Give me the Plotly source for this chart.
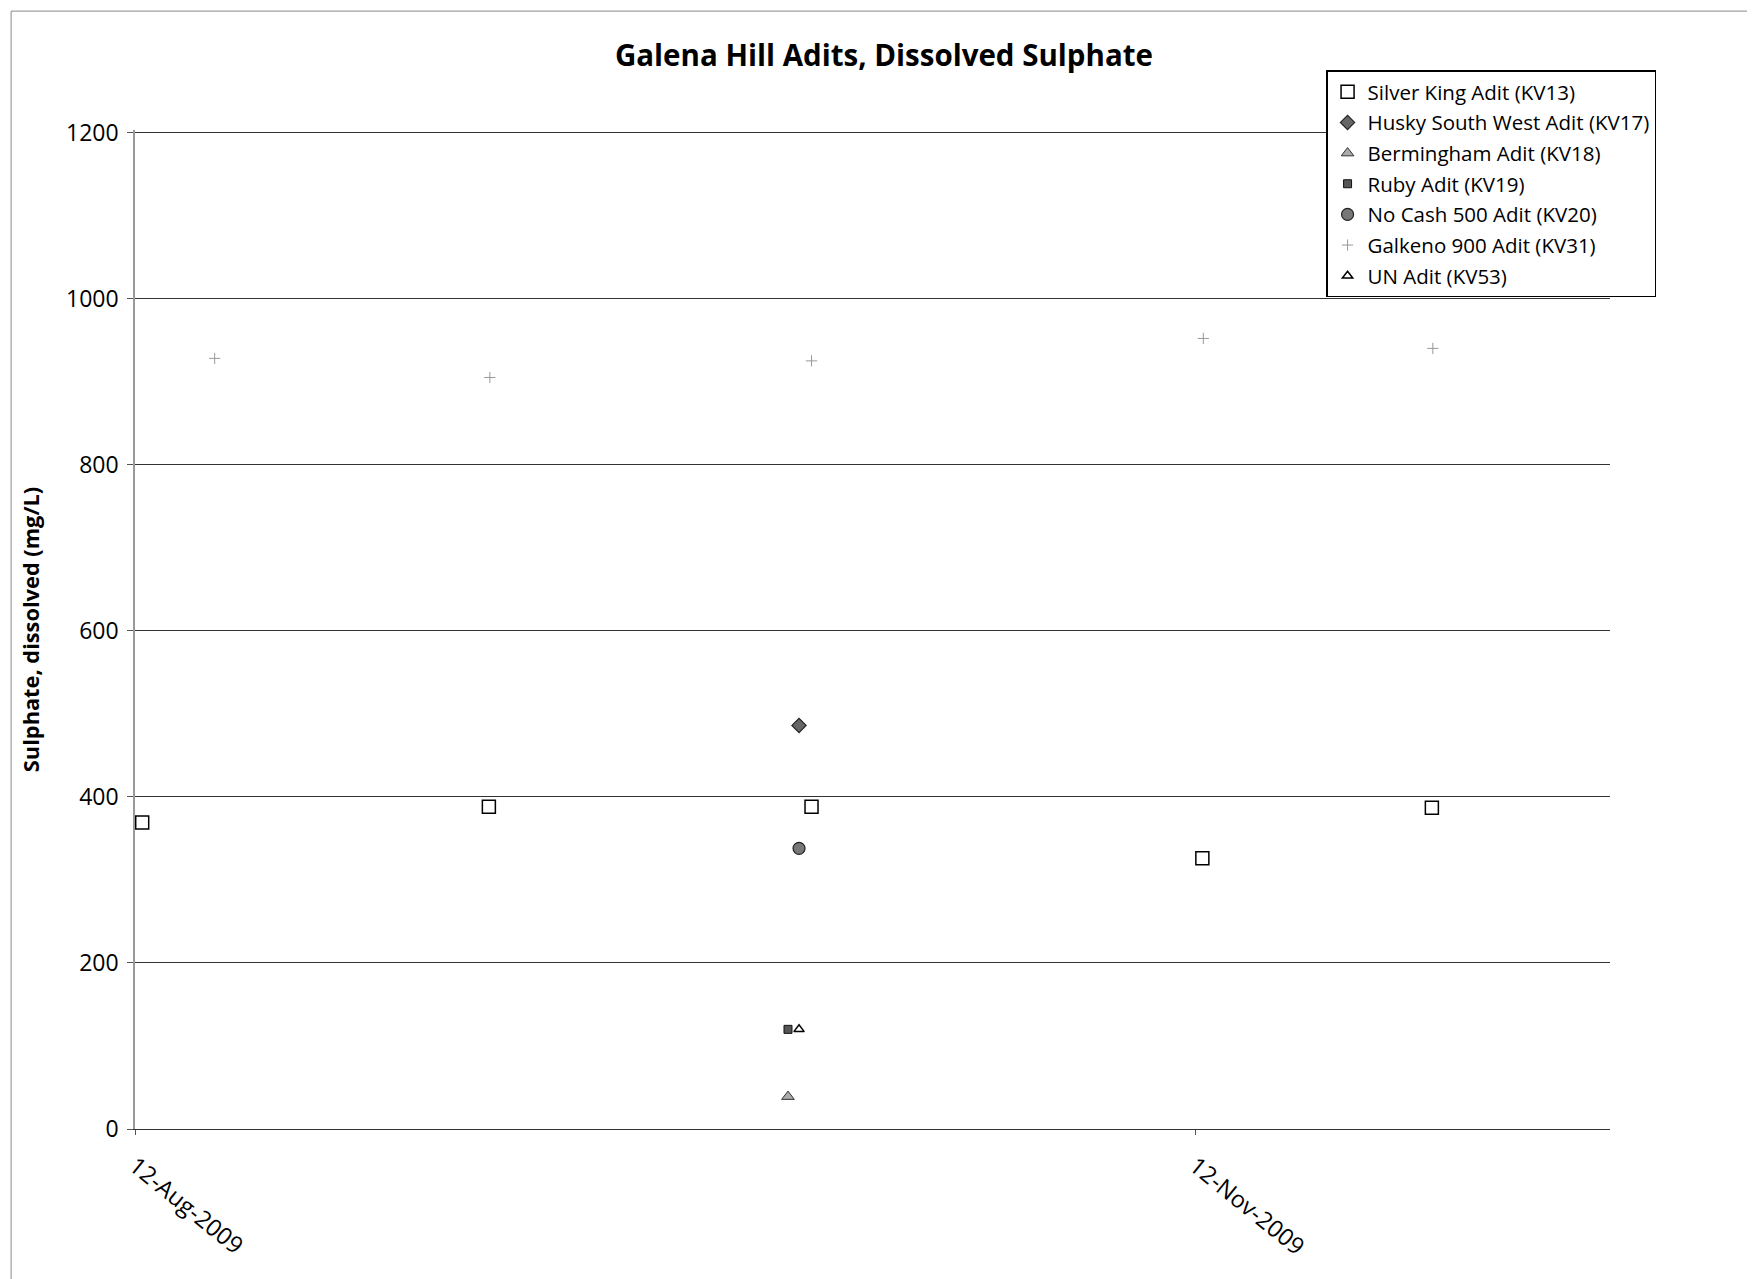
import plotly.graph_objects as go

# ---- data ----
silver_dates = ["2009-08-12 15:00", "2009-09-11 17:00", "2009-10-09 17:00", "2009-11-12 15:00", "2009-12-02 13:00"]
silver_vals = [369, 388, 388, 326, 387]

galkeno_dates = ["2009-08-18 22:00", "2009-09-11 19:00", "2009-10-09 17:00", "2009-11-12 17:00", "2009-12-02 15:00"]
galkeno_vals = [928, 905, 925, 952, 940]

husky_dates = ["2009-10-08 15:00"]
husky_vals = [486]

berm_dates = ["2009-10-07 16:00"]
berm_vals = [39]

ruby_dates = ["2009-10-07 16:00"]
ruby_vals = [120]

nocash_dates = ["2009-10-08 15:00"]
nocash_vals = [338]

un_dates = ["2009-10-08 15:00"]
un_vals = [120]

tick_dates = ["2009-08-12", "2009-11-12"]
tick_labels = ["12-Aug-2009", "12-Nov-2009"]

FONT = "Open Sans"

fig = go.Figure()

def add(name, x, y, symbol, size, color, line_color="black", line_w=1.2):
    fig.add_trace(go.Scatter(
        x=x, y=y, mode="markers", name=name, legendgroup=name,
        marker=dict(symbol=symbol, size=size, color=color,
                    line=dict(color=line_color, width=line_w)),
    ))

add("Silver King Adit (KV13)", silver_dates, silver_vals, "square-open", 13, "black", "black", 1.5)
add("Husky South West Adit (KV17)", husky_dates, husky_vals, "diamond", 11, "#666666", "#222222", 1.2)
add("Bermingham Adit (KV18)", berm_dates, berm_vals, "triangle-up", 11, "#aaaaaa", "#333333", 1)
add("Ruby Adit (KV19)", ruby_dates, ruby_vals, "square", 8, "#555555", "#111111", 1)
add("No Cash 500 Adit (KV20)", nocash_dates, nocash_vals, "circle", 12, "#777777", "#222222", 1.2)
add("Galkeno 900 Adit (KV31)", galkeno_dates, galkeno_vals, "cross-thin-open", 8, "#999999", "#999999", 1)
add("UN Adit (KV53)", un_dates, un_vals, "triangle-up-open", 9, "black", "black", 1.5)

fig.update_layout(
    width=1747, height=1271,
    paper_bgcolor="white", plot_bgcolor="white",
    margin=dict(l=127, r=145, t=122, b=150),
    font=dict(family=FONT, color="black", size=20),
    title=dict(text="<b>Galena Hill Adits, Dissolved Sulphate</b>",
               x=0.5014, xanchor="center", y=0.9622, yanchor="middle",
               font=dict(size=29.5, family=FONT)),
    showlegend=True,
    legend=dict(
        x=0.8075, y=1.0596, xanchor="left", yanchor="top",
        bgcolor="white", bordercolor="black", borderwidth=1.5,
        font=dict(size=20.5, family=FONT),
        traceorder="grouped", tracegroupgap=1,
        itemsizing="trace",
    ),
    xaxis=dict(
        type="date",
        range=["2009-08-12", "2009-12-18"],
        tickvals=tick_dates, ticktext=tick_labels,
        tickangle=39, tickfont=dict(size=23.5),
        showgrid=False, zeroline=False,
        showline=True, linecolor="#333333", linewidth=1,
        ticks="outside", ticklen=5, tickcolor="#555555",
        ticklabelstandoff=8,
    ),
    yaxis=dict(
        range=[0, 1203], dtick=200, tick0=0,
        tickfont=dict(size=23),
        showgrid=True, gridcolor="#333333", gridwidth=1,
        zeroline=False,
        showline=True, linecolor="#999999", linewidth=1.5,
        ticks="outside", ticklen=6, tickcolor="#555555",
        ticklabelstandoff=4,
        title=dict(text="<b>Sulphate, dissolved (mg/L)</b>", font=dict(size=21.8), standoff=20),
    ),
)

# outer chart border
fig.add_shape(type="rect", xref="paper", yref="paper",
              x0=-0.084, x1=1.097, y0=-0.2, y1=1.119,
              line=dict(color="#888888", width=1), layer="below")

fig.write_html("out.html")
